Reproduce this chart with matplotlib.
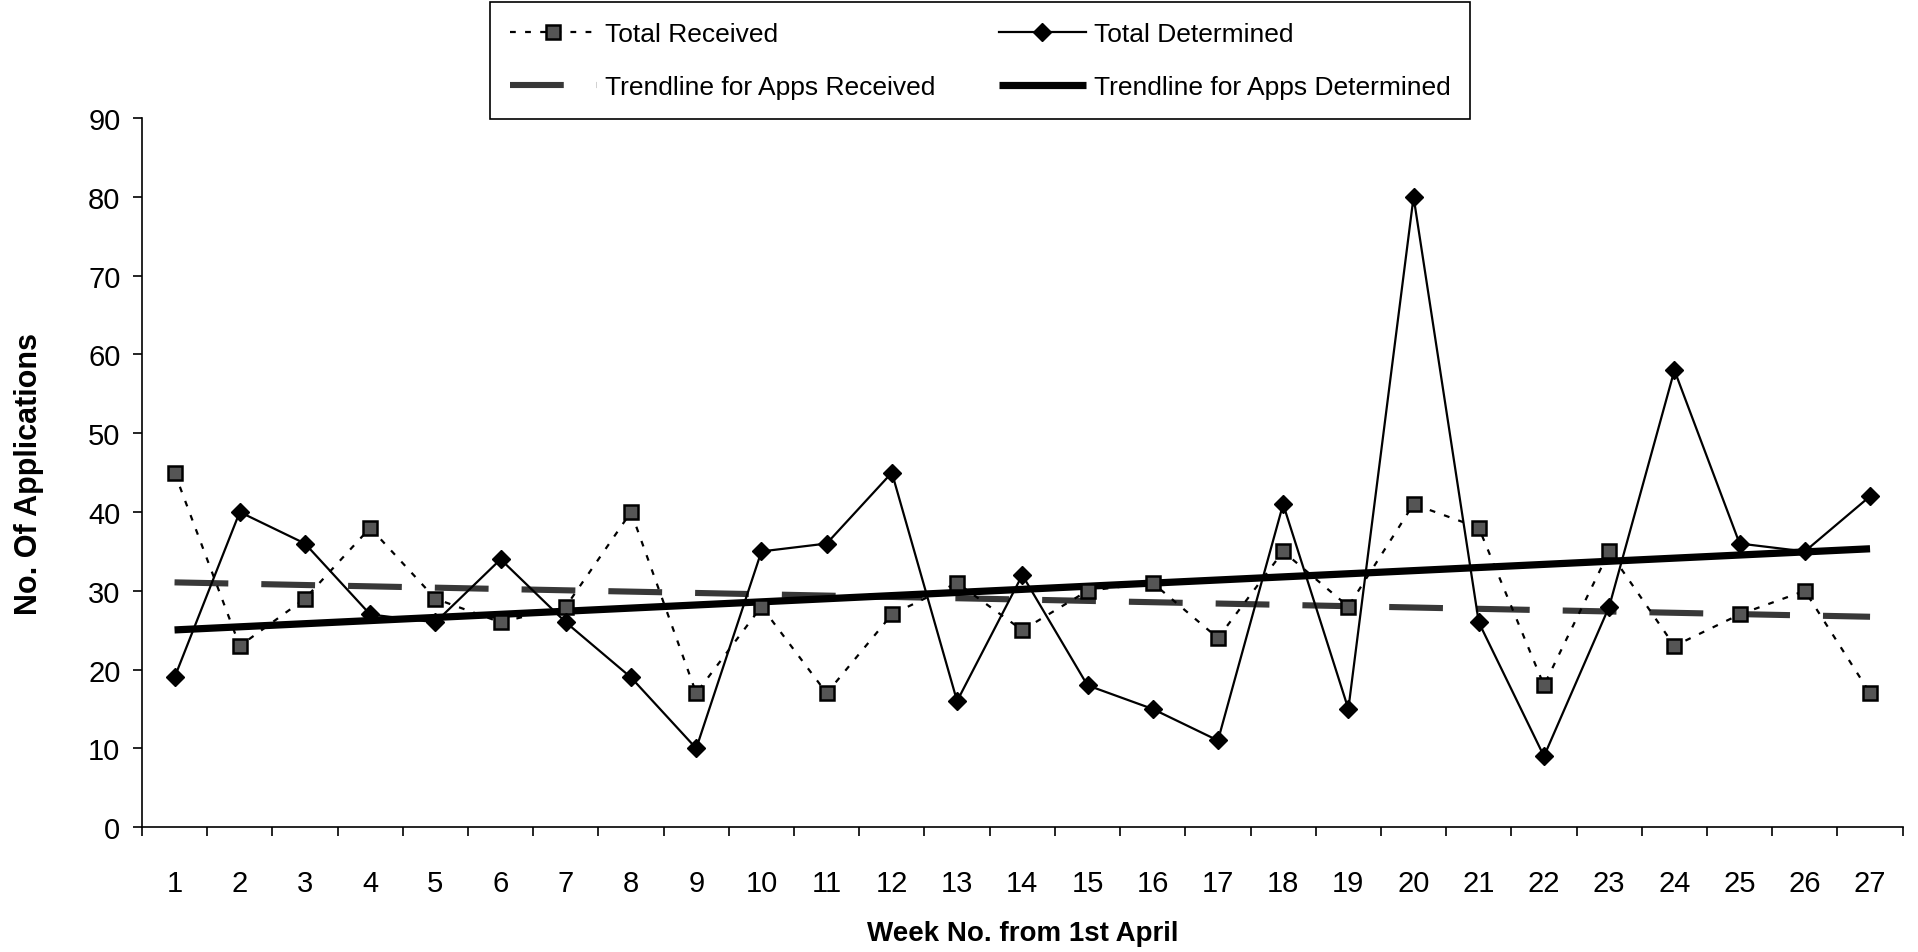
import numpy as np
import matplotlib
matplotlib.use("Agg")
import matplotlib.pyplot as plt

# ================= DATA =================
weeks = list(range(1, 28))

total_received = [45, 23, 29, 38, 29, 26, 28, 40, 17, 28, 17, 27, 31, 25,
                  30, 31, 24, 35, 28, 41, 38, 18, 35, 23, 27, 30, 17]

total_determined = [19, 40, 36, 27, 26, 34, 26, 19, 10, 35, 36, 45, 16, 32,
                    18, 15, 11, 41, 15, 80, 26, 9, 28, 58, 36, 35, 42]

y_ticks = list(range(0, 91, 10))

# ================= TRENDLINES (linear fit like Excel) =================
x = np.array(weeks)
fit_recv = np.polyfit(x, total_received, 1)
fit_det = np.polyfit(x, total_determined, 1)
trend_recv = np.polyval(fit_recv, x)
trend_det = np.polyval(fit_det, x)

# ================= PLOT =================
plt.rcParams["font.family"] = ["Liberation Sans", "DejaVu Sans"]

fig = plt.figure(figsize=(19.18, 9.53), dpi=100)
ax = fig.add_axes([0.074, 0.131, 0.918, 0.744])

# trendlines first so the data lines sit on top
tr_recv, = ax.plot(x, trend_recv, color="#383838", linewidth=4.4,
                   dashes=(8.8, 5.4), solid_capstyle="butt", zorder=2)
tr_det, = ax.plot(x, trend_det, color="black", linewidth=5.2,
                  solid_capstyle="butt", zorder=2)

recv_line, = ax.plot(x, total_received, color="black", linewidth=1.6,
                     dashes=(2.6, 4.2), marker="s", markersize=9.5,
                     markerfacecolor="#555555", markeredgecolor="black",
                     markeredgewidth=1.8, zorder=3)
det_line, = ax.plot(x, total_determined, color="black", linewidth=1.6,
                    marker="D", markersize=9, markerfacecolor="black",
                    markeredgecolor="black", zorder=4)

# axes look
ax.set_xlim(0.5, 27.5)
ax.set_ylim(0, 90)
ax.set_yticks(y_ticks)
ax.set_xticks(weeks)
ax.set_xticks(np.arange(0.5, 28, 1), minor=True)
ax.tick_params(axis="x", which="major", length=0, pad=30, labelsize=21)
ax.tick_params(axis="x", which="minor", length=6.5, width=1.2, direction="out")
ax.tick_params(axis="y", length=6.5, width=1.2, pad=9, labelsize=21)

for side in ["top", "right"]:
    ax.spines[side].set_visible(False)
for side in ["left", "bottom"]:
    ax.spines[side].set_linewidth(1.2)

ax.set_xlabel("Week No. from 1st April", fontsize=20, fontweight="bold", labelpad=17)
ax.set_ylabel("No. Of Applications", fontsize=22, fontweight="bold", labelpad=32)

# legend: 2 columns, order fills column-wise
leg = ax.legend([recv_line, tr_recv, det_line, tr_det],
                ["Total Received", "Trendline for Apps Received",
                 "Total Determined", "Trendline for Apps Determined"],
                ncol=2, loc="upper left",
                bbox_to_anchor=(490 / 1918, 1 - 3 / 953),
                bbox_transform=fig.transFigure, borderaxespad=0,
                fontsize=19, numpoints=1, handlelength=3.3, handletextpad=0.3,
                columnspacing=2.4, labelspacing=1.1, borderpad=0.75,
                fancybox=False, framealpha=1, edgecolor="black")
leg.get_frame().set_linewidth(1.2)

fig.savefig("out.png", dpi=100)
